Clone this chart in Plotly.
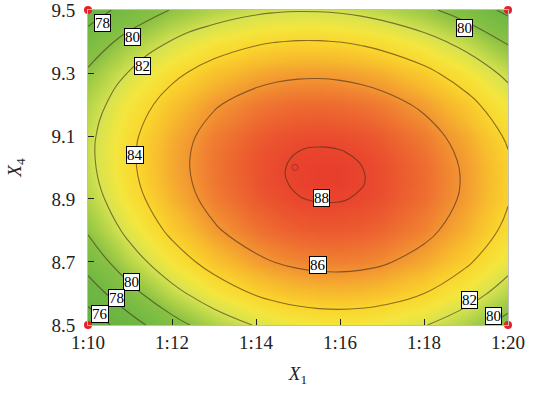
import plotly.graph_objects as go

# Grid of response values
x_grid = [10, 11, 12, 13, 14, 14.5, 15, 15.5, 16, 16.5, 17, 18, 19, 20]
y_grid = [8.5, 8.6, 8.7, 8.8, 8.9, 8.95, 9.0, 9.05, 9.1, 9.2, 9.3, 9.4, 9.5]

z_850 = [74.64, 77.21, 79.31, 80.94, 82.11, 82.52, 82.81, 82.98, 83.04, 82.98, 82.80, 82.10, 80.93, 79.29]
z_860 = [76.95, 79.43, 81.46, 83.02, 84.14, 84.52, 84.79, 84.94, 84.98, 84.91, 84.72, 84.00, 82.82, 81.19]
z_870 = [78.80, 81.20, 83.15, 84.65, 85.70, 86.06, 86.31, 86.44, 86.47, 86.38, 86.18, 85.44, 84.26, 82.63]
z_880 = [80.19, 82.50, 84.37, 85.81, 86.81, 87.14, 87.37, 87.48, 87.49, 87.39, 87.17, 86.42, 85.23, 83.60]
z_890 = [81.12, 83.35, 85.14, 86.51, 87.45, 87.76, 87.97, 88.06, 88.05, 87.93, 87.71, 86.94, 85.75, 84.12]
z_895 = [81.42, 83.60, 85.35, 86.69, 87.60, 87.90, 88.09, 88.18, 88.16, 88.04, 87.81, 87.03, 85.83, 84.21]
z_900 = [81.59, 83.73, 85.45, 86.75, 87.64, 87.92, 88.11, 88.18, 88.16, 88.02, 87.79, 87.00, 85.80, 84.18]
z_905 = [81.66, 83.75, 85.43, 86.70, 87.56, 87.83, 88.00, 88.07, 88.03, 87.90, 87.65, 86.86, 85.65, 84.04]
z_910 = [81.61, 83.66, 85.30, 86.54, 87.36, 87.63, 87.79, 87.84, 87.80, 87.65, 87.40, 86.60, 85.39, 83.78]
z_920 = [81.16, 83.12, 84.69, 85.86, 86.63, 86.87, 87.00, 87.04, 86.98, 86.82, 86.56, 85.74, 84.53, 82.91]
z_930 = [80.25, 82.13, 83.62, 84.72, 85.44, 85.65, 85.76, 85.78, 85.70, 85.53, 85.26, 84.42, 83.20, 81.59]
z_940 = [78.88, 80.67, 82.09, 83.12, 83.78, 83.97, 84.06, 84.06, 83.97, 83.78, 83.49, 82.64, 81.42, 79.81]
z_950 = [77.05, 78.76, 80.09, 81.07, 81.67, 81.83, 81.90, 81.88, 81.77, 81.57, 81.27, 80.40, 79.17, 77.57]
z_rows = [z_850, z_860, z_870, z_880, z_890, z_895, z_900, z_905, z_910, z_920, z_930, z_940, z_950]

# Tick labels
x_tick_vals = [10, 12, 14, 16, 18, 20]
x_tick_text = ["1:10", "1:12", "1:14", "1:16", "1:18", "1:20"]
y_tick_vals = [8.5, 8.7, 8.9, 9.1, 9.3, 9.5]
y_tick_text = ["8.5", "8.7", "8.9", "9.1", "9.3", "9.5"]

# Contour labels (value text and where they sit)
label_text = ["78", "80", "82", "84", "80", "88", "86", "80", "78", "76", "82", "80"]
label_x = [10.345, 11.048, 11.286, 11.119, 18.976, 15.571, 15.476, 11.024, 10.690, 10.286, 19.095, 19.643]
label_y = [9.460, 9.414, 9.322, 9.040, 9.443, 8.903, 8.690, 8.637, 8.586, 8.535, 8.579, 8.529]

# Design corner points and optimum marker
corner_x = [10, 20, 10, 20]
corner_y = [9.5, 9.5, 8.5, 8.5]
opt_x = [14.93]
opt_y = [9.0]

zmin, zmax = 74.5, 88.2
def t(v):
    return (v - zmin) / (zmax - zmin)

colorscale = [
    [0.0, "rgb(98,176,66)"],
    [t(78), "rgb(112,184,66)"],
    [t(80), "rgb(138,194,68)"],
    [t(81), "rgb(176,210,72)"],
    [t(82), "rgb(214,227,80)"],
    [t(83), "rgb(244,230,62)"],
    [t(84), "rgb(250,214,45)"],
    [t(85), "rgb(247,186,45)"],
    [t(86), "rgb(242,148,50)"],
    [t(87), "rgb(238,108,48)"],
    [1.0, "rgb(232,62,45)"],
]

serif = "Liberation Serif, Times New Roman, Times, serif"

fig = go.Figure()
fig.add_trace(go.Contour(
    x=x_grid, y=y_grid, z=z_rows,
    zmin=zmin, zmax=zmax, zauto=False,
    colorscale=colorscale, showscale=False,
    contours=dict(coloring="heatmap", start=76, end=88, size=2, showlabels=False),
    line=dict(color="rgba(70,45,25,0.62)", width=1.1, smoothing=1.3),
    hoverinfo="skip",
))
fig.add_trace(go.Scatter(
    x=opt_x, y=opt_y, mode="markers",
    marker=dict(symbol="circle-open", size=6, color="rgba(160,40,40,0.8)", line=dict(width=1)),
    hoverinfo="skip", showlegend=False,
))
fig.add_trace(go.Scatter(
    x=corner_x, y=corner_y, mode="markers",
    marker=dict(size=8, color="rgb(228,35,40)"),
    cliponaxis=False, hoverinfo="skip", showlegend=False,
))

for txt, lx, ly in zip(label_text, label_x, label_y):
    fig.add_annotation(
        x=lx, y=ly, text=txt, showarrow=False,
        font=dict(family=serif, size=15, color="black"),
        bgcolor="white", bordercolor="black", borderwidth=1, borderpad=0,
    )

fig.update_layout(
    width=540, height=401,
    margin=dict(l=88, r=32, t=10, b=76),
    paper_bgcolor="white", plot_bgcolor="white",
    showlegend=False,
    font=dict(family=serif, size=19, color="#222"),
    xaxis=dict(
        range=[9.9999, 20.0001], tickmode="array", tickvals=x_tick_vals, ticktext=x_tick_text,
        ticks="inside", ticklen=6, tickcolor="#222", showgrid=False, zeroline=False,
        showline=True, linecolor="rgb(190,190,190)", mirror=True, linewidth=1,
        tickfont=dict(family=serif, size=19, color="#222"),
        automargin=False, ticklabeloverflow="allow",
        title=dict(text="<i>X</i><sub>1</sub>", font=dict(family=serif, size=19, color="#222"), standoff=14),
    ),
    yaxis=dict(
        range=[8.4999, 9.5001], tickmode="array", tickvals=y_tick_vals, ticktext=y_tick_text,
        ticks="inside", ticklen=6, tickcolor="#222", showgrid=False, zeroline=False,
        showline=True, linecolor="rgb(190,190,190)", mirror=True, linewidth=1,
        tickfont=dict(family=serif, size=19, color="#222"),
        ticklabelstandoff=8, automargin=False, ticklabeloverflow="allow",
        title=dict(text="<i>X</i><sub>4</sub>", font=dict(family=serif, size=19, color="#222"), standoff=24),
    ),
)

fig.write_html("out.html", config={"displayModeBar": False},
               post_script="document.body.style.margin='0px';")
